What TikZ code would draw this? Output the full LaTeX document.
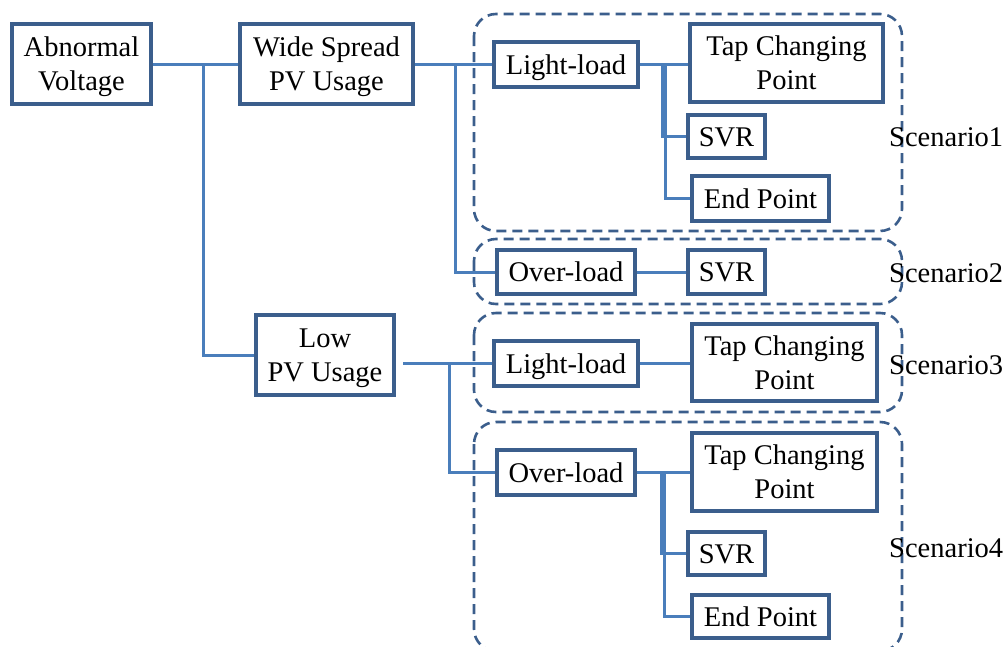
\documentclass[tikz,border=0pt]{standalone}
\usepackage{fontspec}
\setmainfont{Liberation Serif}
\definecolor{boxline}{RGB}{59,94,140}
\definecolor{wire}{RGB}{74,126,187}
% struts giving every box label the same ascent and descent
\newcommand{\topstr}{\rule{0pt}{25.4pt}}
\newcommand{\botstr}{\rule[-6.2pt]{0pt}{6.2pt}}
\tikzset{
  box/.style={draw=boxline, line width=4pt, rectangle, inner sep=0pt, align=center,
    font=\fontsize{28.5}{34}\selectfont},
  wirepath/.style={draw=wire, line width=3pt},
  scenbox/.style={draw=boxline, line width=2.6pt, dash pattern=on 10pt off 6pt, rounded corners=22pt},
  scenlabel/.style={anchor=west, inner sep=0pt, font=\fontsize{28.5}{34}\selectfont}
}
\begin{document}
\begin{tikzpicture}[x=1pt, y=-1pt]
\useasboundingbox (0,0) rectangle (1007,646);
\clip (0,0) rectangle (1007,646);

% scenario frames
\draw[scenbox] (474,14) rectangle (902,231);
\draw[scenbox] (474,239) rectangle (902,304);
\draw[scenbox] (474,313) rectangle (902,412);
\draw[scenbox] (474,422) rectangle (902,651);

% first and second levels
\node[box, minimum width=139.5pt, minimum height=80.5pt] (av) at (81.5,64) {\topstr Abnormal\\Voltage\botstr};
\node[box, minimum width=173.5pt, minimum height=80.5pt] (ws) at (326.5,64) {\topstr Wide Spread\\PV Usage\botstr};
\node[box, minimum width=138.5pt, minimum height=80.5pt] (low) at (325,355) {\topstr Low\\PV Usage\botstr};

% scenario 1
\node[box, minimum width=144.5pt, minimum height=45.5pt] (ll1) at (566,64.5) {\topstr Light-load\botstr};
\node[box, minimum width=193.5pt, minimum height=78.5pt] (tcp1) at (786.5,63) {\topstr Tap Changing\\Point\botstr};
\node[box, minimum width=77.5pt, minimum height=43.5pt] (svr1) at (726.5,136.5) {\topstr SVR\botstr};
\node[box, minimum width=137.5pt, minimum height=45.5pt] (ep1) at (760.5,198.5) {\topstr End Point\botstr};

% scenario 2
\node[box, minimum width=138.5pt, minimum height=44.5pt] (ol2) at (566,272) {\topstr Over-load\botstr};
\node[box, minimum width=77.5pt, minimum height=44.5pt] (svr2) at (726.5,272) {\topstr SVR\botstr};

% scenario 3
\node[box, minimum width=144.5pt, minimum height=45.5pt] (ll3) at (566,363.5) {\topstr Light-load\botstr};
\node[box, minimum width=185.5pt, minimum height=77.5pt] (tcp3) at (784.5,362.5) {\topstr Tap Changing\\Point\botstr};

% scenario 4
\node[box, minimum width=138.5pt, minimum height=45.5pt] (ol4) at (566,472.5) {\topstr Over-load\botstr};
\node[box, minimum width=185.5pt, minimum height=78.5pt] (tcp4) at (784.5,472) {\topstr Tap Changing\\Point\botstr};
\node[box, minimum width=77.5pt, minimum height=43.5pt] (svr4) at (726.5,553.5) {\topstr SVR\botstr};
\node[box, minimum width=137.5pt, minimum height=43.5pt] (ep4) at (760.5,616.5) {\topstr End Point\botstr};

% scenario labels
\node[scenlabel] (s1) at (889,137) {Scenario1};
\node[scenlabel] (s2) at (889,273) {Scenario2};
\node[scenlabel] (s3) at (889,365) {Scenario3};
\node[scenlabel] (s4) at (889,548) {Scenario4};

% branch points
\coordinate (j1) at (203,64);
\coordinate (j2) at (455,64);
\coordinate (j3) at (664,64);
\coordinate (j4) at (449,363.5);
\coordinate (j5) at (663,472);

% connectors
\draw[wirepath] (av.east) -- (ws.west);
\draw[wirepath] (j1) |- (low.west);
\draw[wirepath] (ws.east) -- (ws.east -| ll1.west);
\draw[wirepath] (j2) |- (ol2.west);
\draw[wirepath] (ll1.east) -- (tcp1.west |- ll1.east);
\draw[wirepath] ([xshift=-1.5pt]j3) |- (svr1.west);
\draw[wirepath] ([xshift=1.5pt]j3) |- (ep1.west);
\draw[wirepath] (ol2.east) -- (svr2.west);
\draw[wirepath] ([xshift=7pt]ll3.west -| low.east) -- (ll3.west);
\draw[wirepath] (j4) |- (ol4.west);
\draw[wirepath] (ll3.east) -- (tcp3.west |- ll3.east);
\draw[wirepath] (ol4.east) -- (tcp4.west |- ol4.east);
\draw[wirepath] ([xshift=-1.5pt]j5) |- (svr4.west);
\draw[wirepath] ([xshift=1.5pt]j5) |- (ep4.west);
\end{tikzpicture}
\end{document}
